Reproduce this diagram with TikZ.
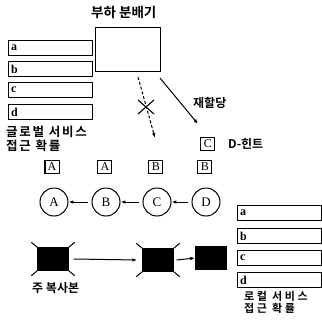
\documentclass[tikz,border=0pt]{standalone}
\usepackage{fontspec}
\newfontfamily\kr{Noto Sans CJK KR Bold}
\newfontfamily\lsr{Liberation Serif}
\usetikzlibrary{arrows.meta}
\begin{document}
\begin{tikzpicture}[x=1pt,y=-1pt,
  probbox/.style={draw,line width=1.2pt,minimum width=84pt,minimum height=15pt,inner sep=0pt,anchor=north west},
  krtext/.style={font=\kr\fontsize{12}{12}\selectfont,inner sep=0pt},
  tagbox/.style={draw,line width=1pt,inner sep=1pt,font=\lsr\fontsize{12}{12}\selectfont,minimum width=14pt,minimum height=13pt},
  site/.style={draw,circle,line width=1pt,minimum size=28pt,inner sep=0pt,font=\lsr\fontsize{13}{13}\selectfont},
  arr/.style={-{Latex[length=5pt,width=3.5pt]},line width=1pt},
  blk/.style={fill=black,draw=black,minimum width=31pt,minimum height=23pt,inner sep=0pt},
  hook/.style={line width=1pt},
  boxlbl/.style={anchor=west,inner sep=0pt,font=\lsr\bfseries\fontsize{12}{12}\selectfont}]
\useasboundingbox (0,0) rectangle (322,325);
% load balancer
\node[krtext,font=\kr\fontsize{13.5}{13.5}\selectfont,anchor=west] (lbt) at (91,12) {부하 분배기};
\node[draw,line width=1.2pt,minimum width=65pt,minimum height=44pt,inner sep=0pt,anchor=north west] (lb) at (95,27) {};
% global boxes
\foreach \n/\y in {a/40,b/61,c/82,d/104}{
  \node[probbox] (g\n) at (8,\y) {};
  \node[boxlbl] (gl\n) at ([xshift=3pt]g\n.west) {\n};
}
\node[krtext,font=\kr\fontsize{12.5}{13.5}\selectfont\addfontfeature{LetterSpace=14},anchor=north west,align=left] (gtxt) at (6,126) {글로벌 서비스\\접근 확률};
% arrows from load balancer
\coordinate (dstart) at (138,77);
\coordinate (dend) at (155,138);
\draw[arr,densely dashed] (dstart) -- (dend);
\coordinate (xc) at (146,107);
\draw[line width=1.1pt] ([shift={(-8,-7)}]xc) -- ([shift={(8,7)}]xc);
\draw[line width=1.1pt] ([shift={(-8,7)}]xc) -- ([shift={(8,-7)}]xc);
\coordinate (sstart) at (160,78);
\coordinate (send) at (198,124);
\draw[arr] (sstart) -- (send);
\node[krtext,anchor=west] (realloc) at (193,103) {재할당};
\node[tagbox] (tc) at (208,144) {C};
\node[krtext,anchor=west] (dh) at (228,144) {D-힌트};
% sites
\node[tagbox] (tA) at (52,167) {A};
\node[tagbox] (tB) at (105,167) {A};
\node[tagbox] (tC) at (156,167) {B};
\node[tagbox] (tD) at (205,167) {B};
\node[site] (A) at (54,202) {A};
\node[site] (B) at (106,202) {B};
\node[site] (C) at (157,202) {C};
\node[site] (D) at (206,202) {D};
\draw[arr] ([xshift=-3pt]B.west) -- (A.east);
\draw[arr] ([xshift=-3pt]C.west) -- (B.east);
\draw[arr] ([xshift=-3pt]D.west) -- (C.east);
% replicas
\node[blk] (p1) at (53,259) {};
\node[blk] (p2) at (158,260) {};
\node[blk] (p3) at (211,258) {};
\foreach \p in {p1,p2}{
  \draw[hook] (\p.north west) -- ++(-6,-5);
  \draw[hook] (\p.north east) -- ++(6,-5);
  \draw[hook] (\p.south west) -- ++(-6,5);
  \draw[hook] (\p.south east) -- ++(6,5);
}
\draw[arr] ([xshift=5pt]p1.east) -- ([xshift=-5pt]p2.west);
\draw[arr] ([xshift=3pt]p2.east) -- (p3.west);
\node[krtext,anchor=west] (prim) at (32,288) {주 복사본};
% local boxes
\foreach \n/\y in {a/205,b/228,c/250,d/272}{
  \node[probbox] (l\n) at (237,\y) {};
  \node[boxlbl] (ll\n) at ([xshift=3pt]l\n.west) {\n};
}
\node[krtext,font=\kr\fontsize{11}{12}\selectfont\addfontfeature{LetterSpace=24},anchor=north west,align=left] (ltxt) at (244,291) {로컬 서비스\\접근 확률};
\end{tikzpicture}
\end{document}
